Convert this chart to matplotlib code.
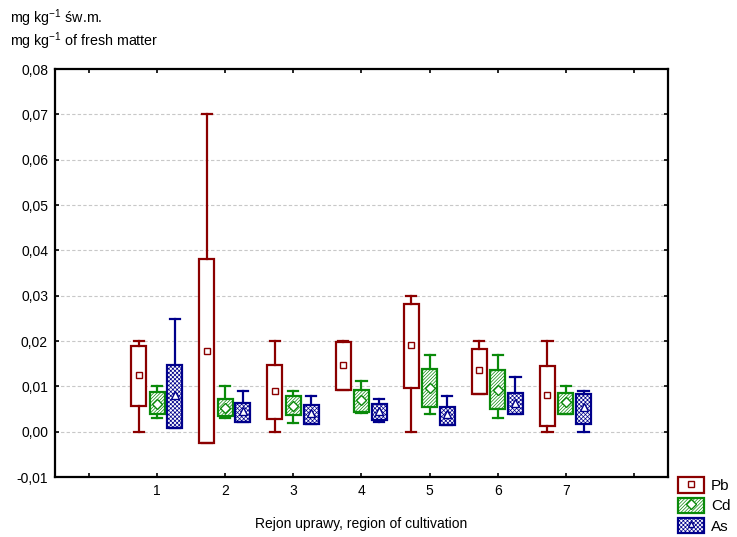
import matplotlib
matplotlib.use('Agg')
import matplotlib.pyplot as plt
from matplotlib.patches import Patch
from matplotlib.lines import Line2D
from matplotlib.ticker import FuncFormatter, FixedLocator

plt.rcParams['font.family'] = ['Liberation Sans', 'DejaVu Sans']
plt.rcParams['mathtext.fontset'] = 'custom'
plt.rcParams['mathtext.rm'] = 'Liberation Sans'
plt.rcParams['mathtext.it'] = 'Liberation Sans'
plt.rcParams['hatch.linewidth'] = 0.5

regions = [1, 2, 3, 4, 5, 6, 7]
elements = ['Pb', 'Cd', 'As']

# box statistics: whisker low, q1, median, q3, whisker high
pb_lo = [0.0, -0.0026, 0.0, 0.0092, 0.0, 0.0083, 0.0]
pb_q1 = [0.0056, -0.0026, 0.0029, 0.0092, 0.0096, 0.0083, 0.0012]
pb_med = [0.0126, 0.0179, 0.0090, 0.0147, 0.0192, 0.0135, 0.0081]
pb_q3 = [0.0188, 0.0382, 0.0148, 0.0198, 0.0282, 0.0183, 0.0144]
pb_hi = [0.0201, 0.0700, 0.0200, 0.0200, 0.0300, 0.0200, 0.0200]

cd_lo = [0.0030, 0.0030, 0.0020, 0.0042, 0.0040, 0.0030, 0.0040]
cd_q1 = [0.0038, 0.0034, 0.0036, 0.0043, 0.0054, 0.0049, 0.0040]
cd_med = [0.0061, 0.0052, 0.0056, 0.0069, 0.0097, 0.0093, 0.0065]
cd_q3 = [0.0087, 0.0073, 0.0078, 0.0093, 0.0139, 0.0135, 0.0085]
cd_hi = [0.0100, 0.0100, 0.0090, 0.0111, 0.0170, 0.0170, 0.0100]

as_lo = [0.0009, 0.0021, 0.0017, 0.0021, 0.0015, 0.0038, 0.0]
as_q1 = [0.0009, 0.0021, 0.0017, 0.0025, 0.0015, 0.0038, 0.0018]
as_med = [0.0081, 0.0046, 0.0041, 0.0045, 0.0038, 0.0063, 0.0054]
as_q3 = [0.0148, 0.0064, 0.0059, 0.0062, 0.0054, 0.0086, 0.0083]
as_hi = [0.0249, 0.0090, 0.0079, 0.0071, 0.0079, 0.0120, 0.0090]

series = [
    (pb_lo, pb_q1, pb_med, pb_q3, pb_hi),
    (cd_lo, cd_q1, cd_med, cd_q3, cd_hi),
    (as_lo, as_q1, as_med, as_q3, as_hi),
]
colors = ['#8b0000', '#0a8a0a', '#00008b']
hatches = [None, '//////////', 'xxxxxxxx']
markers = ['s', 'D', '^']
offsets = [-0.27, 0.0, 0.26]


def make_stats(lo, q1, med, q3, hi):
    return [dict(whislo=lo[i], q1=q1[i], med=med[i], q3=q3[i], whishi=hi[i],
                 mean=med[i], fliers=[]) for i in range(len(lo))]


fig = plt.figure(figsize=(7.37, 5.37), dpi=100)
ax = fig.add_axes([0.0746, 0.1117, 0.8318, 0.7598])

ax.set_xlim(-0.5, 8.5)
ax.set_ylim(-0.01, 0.08)

for s, col, h, m, off in zip(series, colors, hatches, markers, offsets):
    stats = make_stats(*s)
    pos = [r + off for r in regions]
    bp = ax.bxp(stats, positions=pos, widths=0.22, patch_artist=True,
                showmeans=True, showfliers=False, capwidths=0.15,
                boxprops=dict(facecolor='white', edgecolor=col, linewidth=1.6),
                whiskerprops=dict(color=col, linewidth=1.6),
                capprops=dict(color=col, linewidth=1.6),
                medianprops=dict(visible=False),
                meanprops=dict(marker=m, markerfacecolor='white', markeredgecolor=col,
                               markersize=5.5 if m == '^' else 5, markeredgewidth=1.0))
    for b in bp['boxes']:
        if h:
            b.set_hatch(h)
    for b in bp['boxes'] + bp['whiskers'] + bp['caps']:
        b.set_zorder(3)
    for mm in bp['means']:
        mm.set_zorder(4)

# axes styling
ax.xaxis.set_major_locator(FixedLocator(range(0, 9)))
ax.set_xticklabels([''] + [str(r) for r in regions] + [''])
ax.set_yticks([-0.01 + 0.01 * i for i in range(10)])
ax.yaxis.set_major_formatter(FuncFormatter(lambda v, p: f'{v:.2f}'.replace('.', ',').replace('-0,00', '0,00')))
ax.tick_params(direction='in', length=3, width=1.2, top=True, right=True,
               labelsize=10, pad=5)
for sp in ax.spines.values():
    sp.set_linewidth(1.6)

for yv in [0.01 * i for i in range(8)]:
    ax.axhline(yv, color='#c8c8c8', linewidth=0.8, linestyle=(0, (3, 2)), zorder=1)

ax.set_xlabel('Rejon uprawy, region of cultivation', fontsize=10, labelpad=14)

fig.text(0.014, 0.966, 'mg kg$^{-1}$ św.m.', fontsize=10.3, va='center', ha='left')
fig.text(0.014, 0.924, 'mg kg$^{-1}$ of fresh matter', fontsize=10.3, va='center', ha='left')

handles = []
for col, h, m in zip(colors, hatches, markers):
    p = Patch(facecolor='white', edgecolor=col, hatch=h, linewidth=1.6)
    ln = Line2D([], [], marker=m, linestyle='none', markerfacecolor='white',
                markeredgecolor=col, markersize=5)
    handles.append((p, ln))
fig.legend(handles, elements, loc='lower right', bbox_to_anchor=(1.006, -0.014),
           frameon=False, fontsize=11, handlelength=1.75, handleheight=1.15,
           labelspacing=0.3, handletextpad=0.45, borderaxespad=0.3)

fig.savefig('out.png', dpi=100)
